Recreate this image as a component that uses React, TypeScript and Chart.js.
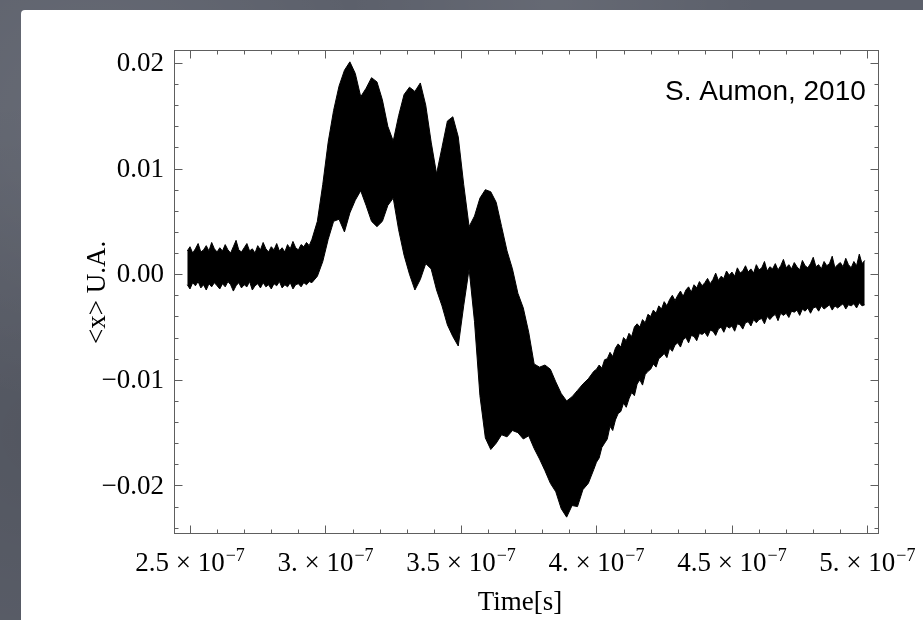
import React, { useEffect, useRef } from "react";
import { Chart, registerables } from "chart.js";

Chart.register(...registerables);

// Time samples, in ns (1e-9 s)
const timeNs = [
  249, 250, 251, 252, 253, 254, 255, 256, 257, 258,
  259, 260, 261, 262, 263, 264, 265, 266, 267, 268,
  269, 270, 271, 272, 273, 274, 275, 276, 277, 278,
  279, 280, 281, 282, 283, 284, 285, 286, 287, 288,
  289, 290, 291, 292, 293, 294, 295,
  297, 299, 301, 303, 305, 307, 309, 311, 313, 315,
  317, 319, 321, 323, 325, 327, 329, 331, 333, 335,
  337, 339, 341, 343, 345, 347, 349, 351, 353, 355,
  357, 359, 361, 363, 365, 367, 369, 371, 373, 375,
  377, 379, 381, 383, 385, 387, 389, 391, 393, 395,
  397, 399,
  400, 401, 402, 403, 404, 405, 406, 407, 408, 409,
  410, 411, 412, 413, 414, 415, 416, 417, 418, 419,
  420, 421, 422, 423, 424, 425, 426, 427, 428, 429,
  430, 431, 432, 433, 434, 435, 436, 437, 438, 439,
  440, 441, 442, 443, 444, 445, 446, 447, 448, 449,
  450, 451, 452, 453, 454, 455, 456, 457, 458, 459,
  460, 461, 462, 463, 464, 465, 466, 467, 468, 469,
  470, 471, 472, 473, 474, 475, 476, 477, 478, 479,
  480, 481, 482, 483, 484, 485, 486, 487, 488, 489,
  490, 491, 492, 493, 494, 495, 496, 497, 498, 499,
];

// Upper edge of the bundle of traces, <x> in units of 1e-3
const upperEnvelope = [
  2.2, 2.6, 2.0, 2.4, 2.9, 2.1, 2.3, 2.7, 2.2, 3.0,
  2.4, 2.1, 2.5, 2.2, 2.8, 2.3, 2.0, 2.6, 3.2, 2.3,
  2.1, 2.5, 2.9, 2.2, 2.4, 2.0, 2.7, 2.3, 3.0, 2.4,
  2.1, 2.6, 2.3, 2.9, 2.2, 2.5, 2.1, 2.8, 2.4, 3.1,
  2.5, 2.3, 2.8, 2.6, 3.0, 2.7, 3.3,
  5.0, 8.5, 12.5, 15.5, 17.8, 19.3, 20.1, 19.0, 16.8, 17.6,
  18.6, 18.2, 16.5, 14.0, 12.6, 15.0, 17.0, 17.7, 17.3, 18.1,
  16.0, 12.5, 9.5, 12.0, 14.5, 14.9, 13.0, 8.5, 4.5, 5.5,
  7.2, 8.0, 7.8, 6.8, 4.5, 2.2, 0.5, -1.8, -3.2, -5.5,
  -8.5, -8.8, -8.6, -9.0, -10.2, -11.3, -12.0, -11.6, -11.0, -10.4,
  -9.9, -9.2,
  -9.0, -8.6, -8.9, -8.1, -8.0, -7.4, -7.8, -7.0, -6.6, -6.9,
  -6.0, -6.3, -5.6, -5.9, -5.0, -4.7, -5.0, -4.3, -4.6, -3.8,
  -4.0, -3.4, -3.7, -3.0, -3.3, -2.6, -3.0, -2.4, -2.0, -2.5,
  -2.0, -1.6, -2.1, -1.5, -1.2, -1.7, -1.0, -1.3, -0.7, -1.1,
  -0.8, -0.4, -0.9, -0.5, 0.1, -0.6, -0.2, -0.4, 0.3, -0.1,
  0.2, -0.2, 0.6, 0.1, 0.3, 0.8, 0.2, 0.5, 0.1, 0.9,
  0.4, 0.6, 1.2, 0.3, 0.7, 0.5, 1.0, 0.4, 0.8, 1.4,
  0.6, 0.9, 0.5, 1.1, 0.7, 0.4, 1.3, 0.8, 0.6, 1.0,
  1.6, 0.7, 0.9, 0.5, 1.2, 0.8, 1.0, 1.7, 0.6, 0.9,
  1.1, 0.7, 1.5, 0.9, 0.6, 1.2, 0.8, 1.9, 1.0, 1.3,
];

// Lower edge of the bundle of traces, <x> in units of 1e-3
const lowerEnvelope = [
  -1.0, -1.4, -0.8, -1.1, -0.7, -1.3, -1.0, -1.5, -0.9, -1.2,
  -0.8, -1.1, -1.4, -0.9, -1.2, -0.7, -1.0, -1.6, -1.1, -0.8,
  -1.3, -1.0, -1.2, -0.7, -1.5, -1.1, -0.9, -1.3, -0.8, -1.2,
  -1.0, -1.4, -0.9, -1.1, -0.7, -1.3, -1.0, -1.2, -0.8, -1.4,
  -1.0, -0.9, -1.2, -0.8, -1.0, -0.7, -0.8,
  -0.2, 1.2, 3.3, 5.0, 5.2, 4.0, 5.8, 7.0, 7.9, 6.5,
  5.0, 4.5, 5.0, 6.5, 7.2, 4.2, 1.8, 0.0, -1.5, -0.5,
  1.0, 0.5, -1.5, -3.0, -4.8, -5.9, -6.8, -3.0, 0.5, -4.5,
  -11.5, -15.5, -16.6, -16.0, -15.2, -15.4, -14.8, -15.0, -15.6, -15.3,
  -16.5, -17.5, -18.6, -19.8, -20.6, -22.2, -23.0, -21.9, -22.0, -20.4,
  -19.8, -18.5,
  -17.8, -17.4, -16.4, -16.0, -15.6, -14.4, -14.8, -13.8, -13.2, -13.0,
  -12.2, -12.6, -11.8, -11.2, -11.5, -10.4, -10.0, -10.5, -9.5, -9.2,
  -9.0, -8.5, -8.8, -8.0, -7.8, -7.5, -7.9, -7.0, -7.3, -6.7,
  -6.5, -6.9, -6.2, -6.0, -6.5, -5.8, -5.9, -6.3, -5.6, -5.7,
  -5.5, -5.9, -5.3, -5.4, -5.8, -5.2, -5.0, -5.5, -4.9, -5.1,
  -4.9, -5.4, -4.7, -4.8, -5.2, -4.6, -4.5, -4.9, -4.3, -4.6,
  -4.3, -4.2, -4.7, -4.0, -4.3, -4.0, -3.8, -4.4, -3.7, -3.9,
  -3.7, -4.1, -3.5, -3.6, -3.4, -3.9, -3.3, -3.5, -3.2, -3.7,
  -3.2, -3.1, -3.5, -3.0, -3.3, -3.1, -2.9, -3.4, -3.0, -3.2,
  -3.0, -2.8, -3.3, -2.9, -3.0, -2.8, -3.2, -2.7, -3.0, -2.9,
];

// Axis ticks and labels
const xMajorTicks = [250, 300, 350, 400, 450, 500];
const xTickMantissas = ["2.5", "3.", "3.5", "4.", "4.5", "5."];
const xTickExponent = "\u22127";
const yMajorTicks = [20, 10, 0, -10, -20];
const yTickLabels = ["0.02", "0.01", "0.00", "\u22120.01", "\u22120.02"];
const xTitle = "Time[s]";
const yTitle = "<x> U.A.";
const creditText = "S. Aumon, 2010";

const SERIF = "'Liberation Serif', 'Times New Roman', serif";
const SANS = "'Liberation Sans', Arial, sans-serif";

const framePlugin = {
  id: "mmaFrame",
  afterDatasetsDraw(chart: any) {
    const { ctx, chartArea: a, scales } = chart;
    const xs = scales.x;
    const ys = scales.y;
    const L = Math.round(a.left) + 0.5;
    const R = Math.round(a.right) + 0.5;
    const T = Math.round(a.top) + 0.5;
    const B = Math.round(a.bottom) + 0.5;
    ctx.save();
    ctx.strokeStyle = "#5e5e5e";
    ctx.lineWidth = 1;
    ctx.strokeRect(L, T, R - L, B - T);
    ctx.beginPath();
    // x ticks (bottom and top), minor every 10 ns
    for (let v = 250; v <= xs.max; v += 10) {
      const px = Math.round(xs.getPixelForValue(v)) + 0.5;
      const len = xMajorTicks.includes(v) ? 8 : 4;
      ctx.moveTo(px, B);
      ctx.lineTo(px, B - len);
      ctx.moveTo(px, T);
      ctx.lineTo(px, T + len);
    }
    // y ticks (left and right), minor every 0.002
    for (let v = -24; v <= ys.max; v += 2) {
      const py = Math.round(ys.getPixelForValue(v)) + 0.5;
      const len = yMajorTicks.includes(v) ? 8 : 4;
      ctx.moveTo(L, py);
      ctx.lineTo(L + len, py);
      ctx.moveTo(R, py);
      ctx.lineTo(R - len, py);
    }
    ctx.stroke();

    ctx.fillStyle = "#000";
    // y tick labels
    ctx.font = `27px ${SERIF}`;
    ctx.textAlign = "right";
    ctx.textBaseline = "middle";
    yMajorTicks.forEach((v, i) => {
      ctx.fillText(yTickLabels[i], a.left - 10, ys.getPixelForValue(v) + 1);
    });

    // x tick labels with superscript exponent
    const baseY = a.bottom + 38;
    xMajorTicks.forEach((v, i) => {
      const px = xs.getPixelForValue(v);
      const base = `${xTickMantissas[i]} \u00d7 10`;
      ctx.font = `27px ${SERIF}`;
      const w1 = ctx.measureText(base).width;
      ctx.font = `18px ${SERIF}`;
      const w2 = ctx.measureText(xTickExponent).width;
      const x0 = px - (w1 + w2 + 1) / 2;
      ctx.textAlign = "left";
      ctx.textBaseline = "alphabetic";
      ctx.font = `27px ${SERIF}`;
      ctx.fillText(base, x0, baseY);
      ctx.font = `18px ${SERIF}`;
      ctx.fillText(xTickExponent, x0 + w1 + 1, baseY - 10);
    });

    // axis titles
    ctx.font = `27px ${SERIF}`;
    ctx.textAlign = "center";
    ctx.textBaseline = "alphabetic";
    ctx.fillText(xTitle, (a.left + a.right) / 2 - 6, a.bottom + 77);
    ctx.save();
    ctx.translate(a.left - 76, (ys.getPixelForValue(0) + ys.getPixelForValue(-4)) / 2 - 3);
    ctx.rotate(-Math.PI / 2);
    ctx.textBaseline = "middle";
    ctx.fillText(yTitle, 0, 0);
    ctx.restore();

    // credit annotation
    ctx.font = `28px ${SANS}`;
    ctx.textAlign = "left";
    ctx.textBaseline = "alphabetic";
    ctx.fillText(creditText, a.left + 491, a.top + 50);
    ctx.restore();
  },
};

function ChartCanvas() {
  const ref = useRef<HTMLCanvasElement | null>(null);
  useEffect(() => {
    if (!ref.current) return;
    const upper = timeNs.map((t, i) => ({ x: t, y: upperEnvelope[i] }));
    const lower = timeNs.map((t, i) => ({ x: t, y: lowerEnvelope[i] }));
    const chart = new Chart(ref.current, {
      type: "line",
      data: {
        datasets: [
          {
            label: "upper",
            data: upper,
            borderColor: "#000",
            borderWidth: 1,
            pointRadius: 0,
            tension: 0,
            fill: false,
          },
          {
            label: "lower",
            data: lower,
            borderColor: "#000",
            borderWidth: 1,
            pointRadius: 0,
            tension: 0,
            fill: "-1",
            backgroundColor: "#000",
          },
        ],
      },
      options: {
        animation: false,
        responsive: false,
        devicePixelRatio: 1,
        events: [],
        layout: { padding: { left: 174, top: 50, right: 45, bottom: 87 } },
        plugins: { legend: { display: false }, tooltip: { enabled: false } },
        scales: {
          x: { type: "linear", min: 244.1, max: 503.9, display: false },
          y: { type: "linear", min: -24.5, max: 21.22, display: false },
        },
      },
      plugins: [framePlugin],
    });
    return () => chart.destroy();
  }, []);
  return <canvas ref={ref} width={923} height={620} style={{ position: "absolute", left: 0, top: 0 }} />;
}

export default function App() {
  return (
    <div
      style={{
        position: "fixed",
        left: 0,
        top: 0,
        width: 923,
        height: 620,
        overflow: "hidden",
        backgroundColor: "#5c606b",
        backgroundImage:
          "radial-gradient(circle at 10% 20%, rgba(255,255,255,0.07), transparent 30%), radial-gradient(circle at 5% 70%, rgba(0,0,0,0.10), transparent 35%), radial-gradient(circle at 60% 0%, rgba(255,255,255,0.06), transparent 25%)",
      }}
    >
      <div
        style={{
          position: "absolute",
          left: 21,
          top: 10,
          width: 902,
          height: 610,
          background: "#fff",
          borderTopLeftRadius: 4,
        }}
      />
      <ChartCanvas />
    </div>
  );
}
